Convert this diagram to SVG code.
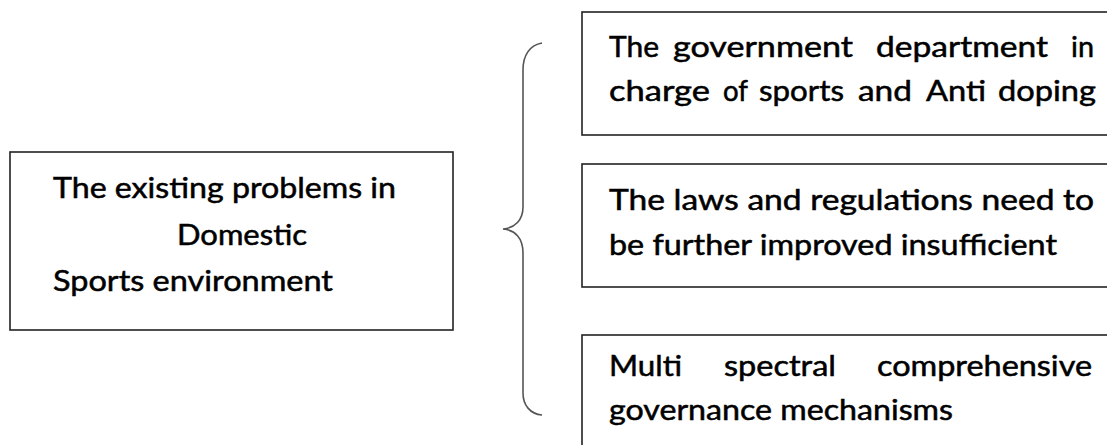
<svg xmlns="http://www.w3.org/2000/svg" width="1107" height="445" viewBox="0 0 1107 445">
<style>
.box{fill:#fff;stroke:#222;stroke-width:1.6}
.t{font-family:Lato,"Open Sans",sans-serif;font-size:28px;fill:#000;stroke:#000;stroke-width:0.5}
.brace{fill:none;stroke:#555;stroke-width:1.6}
</style>
<rect width="1107" height="445" fill="#fff"/>
<g id="main">
<rect class="box" x="10" y="152" width="443" height="178"/>
<text class="t" x="53" y="198" textLength="343" lengthAdjust="spacingAndGlyphs">The existing problems in</text>
<text class="t" x="177" y="245" textLength="130" lengthAdjust="spacingAndGlyphs">Domestic</text>
<text class="t" x="53" y="291" textLength="280" lengthAdjust="spacingAndGlyphs">Sports environment</text>
</g>
<g id="connectors">
<path class="brace" d="M542,43 C530,45 523,55 523,70 L523,207 C523,220 515,228 503,229 C515,230 523,238 523,253 L523,393 C523,405 530,414 542,415"/>
</g>
<g id="dept">
<rect class="box" x="582" y="12" width="540" height="123"/>
<text class="t" y="57"><tspan x="609" textLength="50" lengthAdjust="spacingAndGlyphs">The</tspan><tspan x="673" textLength="180" lengthAdjust="spacingAndGlyphs">government</tspan><tspan x="876" textLength="172" lengthAdjust="spacingAndGlyphs">department</tspan><tspan x="1071" textLength="23" lengthAdjust="spacingAndGlyphs">in</tspan></text>
<text class="t" y="101"><tspan x="609" textLength="101" lengthAdjust="spacingAndGlyphs">charge</tspan><tspan x="723" textLength="25" lengthAdjust="spacingAndGlyphs">of</tspan><tspan x="759" textLength="85" lengthAdjust="spacingAndGlyphs">sports</tspan><tspan x="858" textLength="54" lengthAdjust="spacingAndGlyphs">and</tspan><tspan x="926" textLength="60" lengthAdjust="spacingAndGlyphs">Anti</tspan><tspan x="998" textLength="98" lengthAdjust="spacingAndGlyphs">doping</tspan></text>
</g>
<g id="laws">
<rect class="box" x="582" y="164" width="540" height="123"/>
<text class="t" x="609" y="210" textLength="485" lengthAdjust="spacingAndGlyphs">The laws and regulations need to</text>
<text class="t" x="609" y="255" textLength="448" lengthAdjust="spacingAndGlyphs">be further improved insufficient</text>
</g>
<g id="governance">
<rect class="box" x="582" y="335" width="540" height="130"/>
<text class="t" y="376"><tspan x="609" textLength="73" lengthAdjust="spacingAndGlyphs">Multi</tspan><tspan x="724" textLength="112" lengthAdjust="spacingAndGlyphs">spectral</tspan><tspan x="877" textLength="215" lengthAdjust="spacingAndGlyphs">comprehensive</tspan></text>
<text class="t" x="609" y="420" textLength="344" lengthAdjust="spacingAndGlyphs">governance mechanisms</text>
</g>
</svg>
